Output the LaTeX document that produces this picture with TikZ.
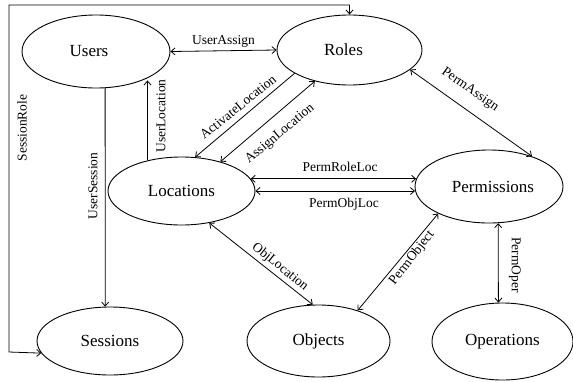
\documentclass[tikz,border=0pt]{standalone}
\usepackage{fontspec}
\setmainfont{Liberation Serif}
\usetikzlibrary{shapes.geometric,arrows.meta}
\tikzset{
  ent/.style={draw, ellipse, line width=0.9pt, minimum width=146pt, minimum height=71pt, inner sep=0pt,
    font=\fontsize{17}{19}\selectfont},
  rel/.style={line width=0.8pt},
  tip/.style={-{Straight Barb[length=4pt,width=7pt]}},
  bitip/.style={{Straight Barb[length=4pt,width=7pt]}-{Straight Barb[length=4pt,width=7pt]}},
  lab/.style={font=\fontsize{13.5}{15}\selectfont, inner sep=1pt}
}
\begin{document}
\begin{tikzpicture}[x=1pt,y=-1pt]
\useasboundingbox (0,0) rectangle (573,381);
% entities
\node[ent, minimum width=148pt, minimum height=73pt] (Users) at (96,51.5) {Users\hspace*{14pt}};
\node[ent, minimum width=145pt, minimum height=70pt] (Roles) at (349.5,50) {Roles\hspace*{12pt}};
\node[ent, minimum width=147pt, minimum height=68pt] (Locations) at (181.5,191) {Locations};
\node[ent, minimum width=148pt, minimum height=73pt] (Permissions) at (489,186.5) {\hspace*{8pt}Permissions};
\node[ent, minimum width=146pt, minimum height=68pt] (Sessions) at (110,341) {Sessions};
\node[ent, minimum width=143pt, minimum height=72pt] (Objects) at (318.5,341) {Objects};
\node[ent, minimum width=141pt, minimum height=77pt] (Operations) at (502.5,341.5) {Operations};
% connectors
\draw[rel,bitip] (Users.east) -- node[lab, above=2pt] {UserAssign} (Roles.west);
\coordinate (srA) at (9,352);
\coordinate (srB) at (9,5);
\draw[rel,bitip] (Sessions.190) -- (srA) -- (srB) -| (Roles.north);
\node[lab, rotate=90] (srlab) at (22,128) {SessionRole};
\draw[rel,tip] (Users.-76) -- (Sessions.98);
\node[lab, rotate=90] (uslab) at (93,186) {UserSession};
\draw[rel,tip] (Locations.138) -- (Locations.138 |- Users.-32);
\node[lab, rotate=90] (ullab) at (161,116) {UserLocation};
\draw[rel,tip] (Roles.203) -- (Locations.68);
\node[lab, rotate=39] (allab) at (238,107) {ActivateLocation};
\draw[rel,bitip] (Roles.222) -- (Locations.37);
\node[lab, rotate=40] (aslab) at (280,134) {AssignLocation};
\draw[rel,bitip] (Locations.10) -- (Locations.10 -| Permissions.174);
\node[lab] (prlab) at (340,167) {PermRoleLoc};
\draw[rel,bitip] (Locations.0) -- (Locations.0 -| Permissions.-177);
\node[lab] (pollab) at (344,204) {PermObjLoc};
\draw[rel,bitip] (Locations.-49.5) -- (Objects.99.5);
\node[lab, rotate=-39] (ollab) at (280,267) {ObjLocation};
\draw[rel,bitip] (Objects.38.5) -- (Permissions.-152.7);
\node[lab, rotate=52] (polab) at (412,258) {PermObject};
\draw[rel,bitip] (Permissions.-76) -- (Operations.96.7);
\node[lab, rotate=-90] (oplab) at (515,265) {PermOper};
\draw[rel,bitip] (Roles.-18.3) -- (Permissions.35.3);
\node[lab, rotate=-35] (palab) at (470,90) {PermAssign};
\end{tikzpicture}
\end{document}
